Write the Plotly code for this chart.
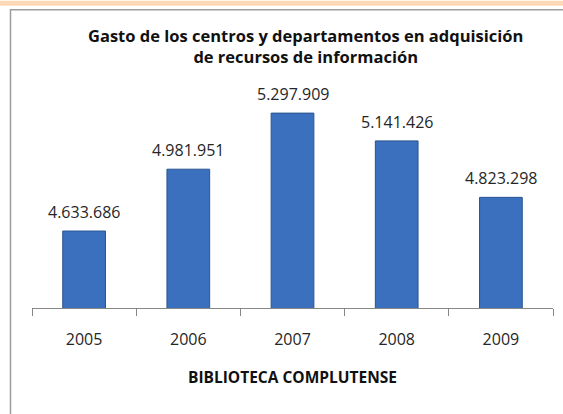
import plotly.graph_objects as go

years = ["2005", "2006", "2007", "2008", "2009"]
gasto = [4633686, 4981951, 5297909, 5141426, 4823298]
labels = ["4.633.686", "4.981.951", "5.297.909", "5.141.426", "4.823.298"]
title_text = "Gasto de los centros y departamentos en adquisición<br>de recursos de información"
axis_title = "BIBLIOTECA COMPLUTENSE"

W, H = 563, 414
L, R, T, B = 32, 10, 94.5, 106
pw, ph = W - L - R, H - T - B


def px(x):
    return (x - L) / pw


def py(y):
    return (H - B - y) / ph


fig = go.Figure()
fig.add_trace(go.Bar(
    x=years, y=gasto,
    marker=dict(color="#3A70BE", line=dict(color="#2A5490", width=1)),
    width=0.41,
    hoverinfo="skip",
))

# category index positions for the value labels
for i, (v, lab) in enumerate(zip(gasto, labels)):
    fig.add_annotation(x=i, y=v, text=lab, showarrow=False, yanchor="bottom",
                       yshift=6, font=dict(family="Open Sans", size=16, color="#262626"))

fig.add_annotation(xref="paper", yref="paper", x=px(305.5), y=py(45), text=title_text,
                   showarrow=False, xanchor="center", yanchor="middle",
                   font=dict(family="Open Sans", size=16.5, color="#111111", weight="bold"))

# peach band at top and chart border
fig.add_shape(type="rect", xref="paper", yref="paper", x0=px(0), x1=px(W), y0=py(5), y1=py(0),
              fillcolor="#FCD8B6", line=dict(width=0), layer="below")
fig.add_shape(type="rect", xref="paper", yref="paper", x0=px(10.5), x1=px(W + 5), y0=py(H + 5), y1=py(9),
              fillcolor="rgba(0,0,0,0)", line=dict(color="#9C9C9C", width=1.5), layer="below")

fig.update_layout(
    width=W, height=H,
    margin=dict(l=L, r=R, t=T, b=B, autoexpand=False),
    paper_bgcolor="white", plot_bgcolor="white",
    showlegend=False,
    bargap=0.59,
    xaxis=dict(
        type="category", automargin=False, range=[-0.5, len(years) - 0.5],
        showline=True, linecolor="#868686", linewidth=1,
        ticks="outside", tickson="boundaries", ticklen=7, tickcolor="#868686",
        ticklabelstandoff=17,
        tickfont=dict(family="Open Sans", size=16, color="#262626"),
        title=dict(text=axis_title, standoff=22,
                   font=dict(family="Open Sans", size=15.5, color="#111111", weight="bold")),
        showgrid=False, fixedrange=True,
    ),
    yaxis=dict(range=[4200000, 5400000], visible=False, showgrid=False, fixedrange=True,
               automargin=False),
)

fig.write_html("out.html", config={"displayModeBar": False},
               post_script="document.body.style.margin='0';document.body.style.overflow='hidden';")
